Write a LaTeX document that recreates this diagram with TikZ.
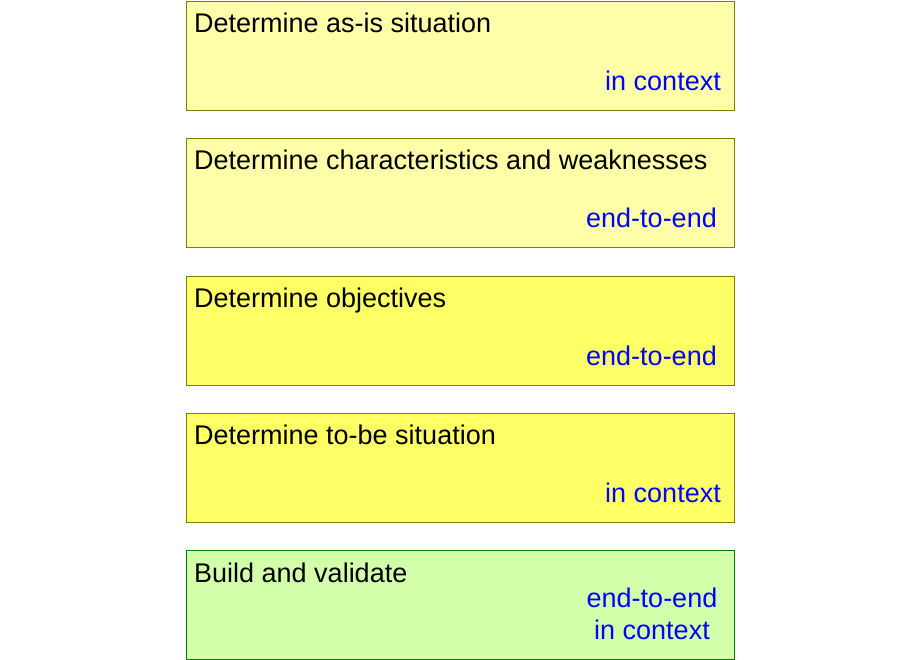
\documentclass[tikz,border=0pt]{standalone}
\usepackage{fontspec}
\setmainfont{Liberation Sans}
\definecolor{lyellow}{HTML}{FFFFAA}
\definecolor{dyellow}{HTML}{FFFF66}
\definecolor{lgreen}{HTML}{D4FFAA}
\definecolor{olive}{HTML}{808000}
\definecolor{dgreen}{HTML}{008000}
\definecolor{tblue}{HTML}{0000FF}
\tikzset{
  card/.style={draw=olive, line width=1pt, minimum width=548pt, minimum height=109pt, inner sep=0pt},
  title/.style={anchor=base west, inner sep=0pt, font=\fontsize{27}{32}\selectfont, text=black},
  tag/.style={anchor=base east, inner sep=0pt, font=\fontsize{27}{32}\selectfont, text=tblue},
  tagc/.style={anchor=base, inner sep=0pt, font=\fontsize{27}{32}\selectfont, text=tblue}
}
\begin{document}
\begin{tikzpicture}[x=1pt,y=-1pt]
\useasboundingbox (0,0) rectangle (920,660);
\node[card, fill=lyellow, anchor=north west] (b1) at (186,1.5) {};
\node[card, fill=lyellow, anchor=north west] (b2) at (186,138.5) {};
\node[card, fill=dyellow, anchor=north west] (b3) at (186,275.5) {};
\node[card, fill=dyellow, anchor=north west] (b4) at (186,412.5) {};
\node[card, fill=lgreen, draw=dgreen, anchor=north west] (b5) at (186,550) {};
\node[title] (t1) at (194,32.5) {Determine as-is situation};
\node[tag] (g1) at (721,91) {in context};
\node[title] (t2) at (194,170) {Determine characteristics and weaknesses};
\node[tag] (g2) at (717,228) {end-to-end};
\node[title] (t3) at (194,307) {Determine objectives};
\node[tag] (g3) at (717,365) {end-to-end};
\node[title] (t4) at (194,444) {Determine to-be situation};
\node[tag] (g4) at (721,502) {in context};
\node[title] (t5) at (194,582) {Build and validate};
\node[tagc] (g5a) at (652,607) {end-to-end};
\node[tagc] (g5b) at (652,639) {in context};
\end{tikzpicture}
\end{document}
